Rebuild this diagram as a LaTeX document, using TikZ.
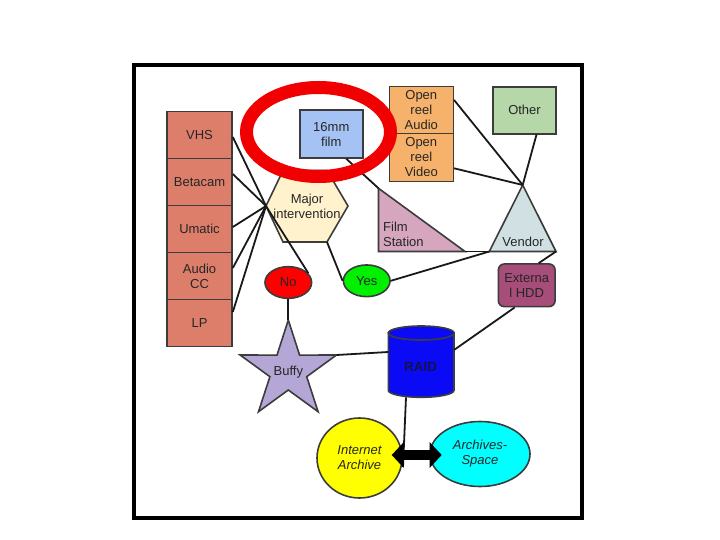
\documentclass[tikz,border=0pt]{standalone}
\usepackage{fontspec}
\setmainfont{Liberation Sans}
\usetikzlibrary{shapes.geometric,arrows.meta}
\definecolor{stackc}{HTML}{DD7E6B}
\definecolor{filmc}{HTML}{A4C2F4}
\definecolor{reelc}{HTML}{F6B26B}
\definecolor{otherc}{HTML}{B6D7A8}
\definecolor{hexc}{HTML}{FFF2CC}
\definecolor{fsc}{HTML}{D5A6BD}
\definecolor{vendc}{HTML}{D0E0E3}
\definecolor{hddc}{HTML}{A64D79}
\definecolor{starc}{HTML}{B4A7D6}
\definecolor{raidc}{HTML}{0A0AF5}
\definecolor{bordc}{HTML}{3C3C3C}
\definecolor{txtc}{HTML}{262626}
\definecolor{circlec}{HTML}{F00000}
\definecolor{noc}{HTML}{FF0000}
\definecolor{yesc}{HTML}{00F000}
\definecolor{iac}{HTML}{FFFF00}
\definecolor{asc}{HTML}{00FFFF}
\definecolor{raidtxt}{HTML}{12124A}
\begin{document}
\begin{tikzpicture}[x=1bp,y=-1bp,
  every node/.style={font=\fontsize{13bp}{15bp}\selectfont, text=txtc, align=center, inner sep=0pt},
  shp/.style={draw=bordc, line width=1.6bp},
  box/.style={shp, rectangle, minimum width=#1},
  box/.default=65bp,
  oval/.style={shp, ellipse},
  conn/.style={draw=black!90, line width=1.8bp},
  dblarrow/.style={draw=black, line width=10bp, {Triangle[length=12bp,width=25bp]}-{Triangle[length=12bp,width=25bp]}}
]
\useasboundingbox (0,0) rectangle (720,540);
\draw[line width=4bp] (133.7,65.3) rectangle (581.5,518.3);

% left stack
\node[box, fill=stackc, minimum height=47bp] (vhs) at (199.5,135) {VHS};
\node[box, fill=stackc, minimum height=47bp] (betacam) at (199.5,182) {Betacam};
\node[box, fill=stackc, minimum height=47bp] (umatic) at (199.5,229) {Umatic};
\node[box, fill=stackc, minimum height=47bp] (audiocc) at (199.5,276) {Audio\\CC};
\node[box, fill=stackc, minimum height=47bp] (lp) at (199.5,323) {LP};

% top boxes
\node[box=63bp, fill=filmc, minimum height=48bp] (film) at (331.3,134) {16mm\\film};
\node[box=64bp, fill=reelc, minimum height=47bp] (audio) at (421.3,110) {Open\\reel\\Audio};
\node[box=64bp, fill=reelc, minimum height=48bp] (video) at (421.3,157.5) {Open\\reel\\Video};
\node[box=63bp, fill=otherc, minimum height=47bp] (other) at (524.5,110.3) {Other};

% hexagon
\coordinate (hexL) at (266,206);
\coordinate (hexTL) at (283,170.5);
\coordinate (hexTR) at (327,170.5);
\coordinate (hexR) at (348,206);
\coordinate (hexBR) at (327,242);
\coordinate (hexBL) at (283,242);
\path[shp, fill=hexc] (hexL) -- (hexTL) -- (hexTR) -- (hexR) -- (hexBR) -- (hexBL) -- cycle;
\node (major) at (307,206) {Major\\intervention};

% film station triangle
\coordinate (fsT) at (378.5,188.3);
\coordinate (fsBL) at (378.5,251.5);
\coordinate (fsBR) at (465,251.5);
\path[shp, fill=fsc] (fsT) -- (fsBL) -- (fsBR) -- cycle;
\node[anchor=west, align=left] (fstext) at (383,234) {Film\\Station};

% vendor triangle
\coordinate (vA) at (522.7,185);
\coordinate (vBL) at (489.3,251.5);
\coordinate (vBR) at (556,251.5);
\path[shp, fill=vendc] (vA) -- (vBL) -- (vBR) -- cycle;
\node (vendor) at (523,241.5) {Vendor};

% yes / no
\node[oval, fill=noc, minimum width=46.7bp, minimum height=31.7bp] (no) at (288.3,282.5) {No};
\node[oval, fill=yesc, minimum width=46.7bp, minimum height=31.7bp] (yes) at (366.7,280.8) {Yes};

% external HDD
\node[shp, rectangle, rounded corners=6bp, fill=hddc, minimum width=56.7bp, minimum height=42.7bp] (hdd) at (526.7,285.3) {Externa\\l HDD};

% star
\coordinate (starTop) at (288.3,320.0);
\coordinate (starRight) at (336.5,355.0);
\path[shp, fill=starc] (starTop) -- (299.6,355.1) -- (starRight) -- (306.7,376.7)
  -- (318.1,411.7) -- (288.3,390.0) -- (258.5,411.7) -- (269.9,376.7)
  -- (240.1,355.0) -- (277.0,355.1) -- cycle;
\node (buffy) at (288.3,372) {Buffy};

% RAID cylinder
\path[shp, fill=raidc] (388.3,333) -- (388.3,390.3)
  .. controls (388.3,394.2) and (403,397.3) .. (421.2,397.3)
  .. controls (439.4,397.3) and (454,394.2) .. (454,390.3) -- (454,333) -- cycle;
\draw[shp, fill=raidc] (421.2,333) ellipse [x radius=32.9bp, y radius=7bp];
\node[font=\fontsize{13.5bp}{15bp}\selectfont\bfseries, text=raidtxt] (raid) at (420.5,366.5) {RAID};
\coordinate (raidR) at (454,350);
\coordinate (raidL) at (388.3,352);
\coordinate (raidB) at (406,397.3);

% archives
\node[oval, fill=iac, minimum width=85bp, minimum height=80bp, font=\fontsize{13bp}{15bp}\selectfont\itshape] (ia) at (359.5,458) {Internet\\Archive};
\node[oval, fill=asc, minimum width=100bp, minimum height=65bp, font=\fontsize{13bp}{15bp}\selectfont\itshape] (as) at (480,454) {Archives-\\Space};
\coordinate (arrL) at (391.7,455);
\coordinate (arrR) at (441.7,455);
\coordinate (raidEnd) at (403,467);

% connectors
\draw[conn] ([yshift=-2bp]vhs.east) -- (hexL);
\draw[conn] ([yshift=8bp]betacam.east) -- (hexL);
\draw[conn] ([yshift=2bp]umatic.east) -- (hexL);
\draw[conn] ([yshift=8bp]audiocc.east) -- (hexL);
\draw[conn] ([yshift=11bp]lp.east) -- (hexL);
\draw[conn] (hexL) -- (no.25);
\draw[conn] (hexBR) -- (yes.west);
\draw[conn] (yes.east) -- (vBL);
\draw[conn] ([xshift=15bp]film.south) -- (fsT);
\draw[conn] (fsBR) -- (vBL);
\draw[conn] ([yshift=10bp]audio.east) -- (vA);
\draw[conn] ([yshift=-10.8bp]video.east) -- (vA);
\draw[conn] ([xshift=12bp]other.south) -- (vA);
\draw[conn] (vBR) -- ([xshift=12bp]hdd.north);
\draw[conn] ([xshift=-12bp]hdd.south) -- (raidR);
\draw[conn] (raidL) -- (starRight);
\draw[conn] (no.south) -- (starTop);
\draw[conn] (raidB) -- (raidEnd);
\draw[dblarrow] (arrL) -- (arrR);

% highlight ellipse
\draw[circlec, line width=13bp] (318.5,132) ellipse [x radius=72bp, y radius=44.5bp];
\end{tikzpicture}
\end{document}
